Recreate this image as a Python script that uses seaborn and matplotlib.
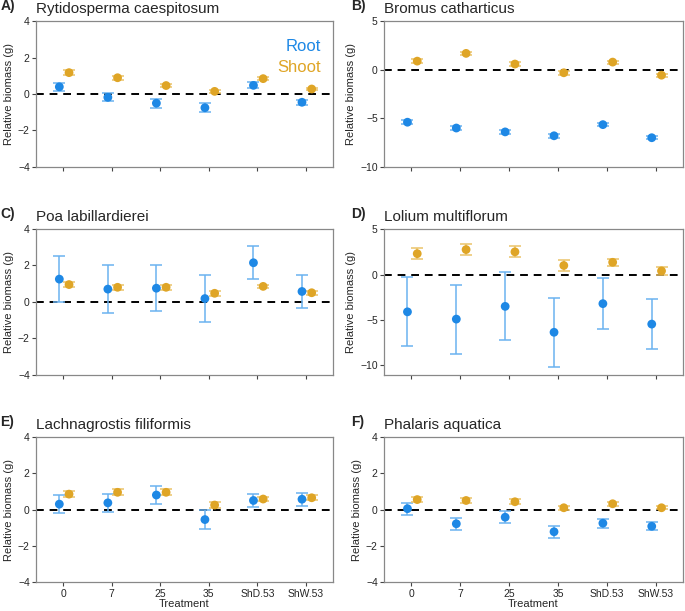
import numpy as np
import pandas as pd
import matplotlib.pyplot as plt
import seaborn as sns

sns.set_style('white')
plt.rcParams['font.family'] = ['Liberation Sans', 'DejaVu Sans']

treatments = ['0', '7', '25', '35', 'ShD.53', 'ShW.53']
species = ['Rytidosperma caespitosum', 'Bromus catharticus', 'Poa labillardierei',
           'Lolium multiflorum', 'Lachnagrostis filiformis', 'Phalaris aquatica']
letters = ['A)', 'B)', 'C)', 'D)', 'E)', 'F)']

# mean and error (half-width) per species, root then shoot
root_mean = [
    [0.40, -0.18, -0.50, -0.75, 0.48, -0.45],
    [-5.40, -6.00, -6.40, -6.80, -5.65, -7.00],
    [1.25, 0.70, 0.75, 0.18, 2.15, 0.57],
    [-4.10, -4.90, -3.50, -6.35, -3.20, -5.45],
    [0.30, 0.37, 0.80, -0.55, 0.50, 0.57],
    [0.05, -0.78, -0.42, -1.22, -0.75, -0.92],
]
root_err = [
    [0.22, 0.22, 0.24, 0.24, 0.17, 0.15],
    [0.20, 0.20, 0.20, 0.20, 0.18, 0.18],
    [1.28, 1.30, 1.27, 1.28, 0.90, 0.90],
    [3.80, 3.80, 3.75, 3.80, 2.80, 2.75],
    [0.48, 0.48, 0.50, 0.50, 0.36, 0.36],
    [0.33, 0.33, 0.33, 0.33, 0.24, 0.23],
]
shoot_mean = [
    [1.18, 0.90, 0.47, 0.15, 0.85, 0.28],
    [0.90, 1.70, 0.60, -0.30, 0.80, -0.55],
    [0.95, 0.80, 0.80, 0.47, 0.85, 0.50],
    [2.30, 2.75, 2.50, 1.00, 1.35, 0.40],
    [0.85, 0.95, 0.95, 0.25, 0.58, 0.65],
    [0.55, 0.50, 0.43, 0.10, 0.32, 0.10],
]
shoot_err = [
    [0.12, 0.12, 0.10, 0.10, 0.10, 0.08],
    [0.18, 0.18, 0.18, 0.18, 0.15, 0.15],
    [0.15, 0.15, 0.15, 0.15, 0.10, 0.12],
    [0.60, 0.60, 0.60, 0.58, 0.40, 0.40],
    [0.17, 0.17, 0.17, 0.17, 0.13, 0.13],
    [0.13, 0.13, 0.13, 0.10, 0.10, 0.08],
]
ylims = [(-4, 4), (-10, 5), (-4, 4), (-11, 5), (-4, 4), (-4, 4)]
yticks = [[-4, -2, 0, 2, 4], [-10, -5, 0, 5], [-4, -2, 0, 2, 4],
          [-10, -5, 0, 5], [-4, -2, 0, 2, 4], [-4, -2, 0, 2, 4]]

root_col = '#1E88E5'
shoot_col = '#DFA526'
root_err_col = '#6BB3F0'
shoot_err_col = '#EBC36A'

fig = plt.figure(figsize=(6.85, 6.11), dpi=100)
lefts = [0.0526, 0.5606]
widths = [0.4336, 0.4365]
bottoms = [0.727, 0.387, 0.047]
h = 0.238

for i in range(6):
    r, c = divmod(i, 2)
    ax = fig.add_axes([lefts[c], bottoms[r], widths[c], h])
    x = np.arange(len(treatments))
    df = pd.DataFrame({
        'x': np.concatenate([x - 0.08, x + 0.12]),
        'y': np.concatenate([root_mean[i], shoot_mean[i]]),
        'err': np.concatenate([root_err[i], shoot_err[i]]),
        'part': ['Root'] * 6 + ['Shoot'] * 6,
    })
    ax.axhline(0, color='black', ls=(0, (4, 3)), lw=1.4, zorder=1)
    for part, ecol in [('Root', root_err_col), ('Shoot', shoot_err_col)]:
        sub = df[df['part'] == part]
        ax.errorbar(sub['x'], sub['y'], yerr=sub['err'], fmt='none', ecolor=ecol,
                    elinewidth=1.1, capsize=4, capthick=1.1, zorder=2)
    sns.scatterplot(data=df, x='x', y='y', hue='part',
                    palette={'Root': root_col, 'Shoot': shoot_col},
                    s=40, edgecolor='none', legend=False, ax=ax, zorder=3)
    ax.set_xlim(-0.56, 5.56)
    ax.set_ylim(*ylims[i])
    ax.set_yticks(yticks[i])
    ax.set_xticks(x)
    for sp in ax.spines.values():
        sp.set_color('#888888')
        sp.set_linewidth(0.9)
    ax.tick_params(axis='both', direction='out', length=3, width=0.8,
                   color='#444444', labelsize=7.5, pad=1.5, left=True, bottom=True)
    ax.set_ylabel('Relative biomass (g)', fontsize=8, labelpad=3)
    if r == 2:
        ax.set_xticklabels(treatments)
        ax.set_xlabel('Treatment', fontsize=8, labelpad=0)
    else:
        ax.set_xticklabels([])
        ax.set_xlabel('')
    ax.set_title(species[i], loc='left', fontsize=11, pad=6)
    ax.text(-0.12 if c == 0 else -0.11, 1.055, letters[i], transform=ax.transAxes,
            fontsize=10, fontweight='bold', ha='left', va='bottom')
    if i == 0:
        ax.text(0.96, 0.83, 'Root', color=root_col, fontsize=12,
                transform=ax.transAxes, ha='right', va='center')
        ax.text(0.96, 0.68, 'Shoot', color=shoot_col, fontsize=12,
                transform=ax.transAxes, ha='right', va='center')

fig.savefig('out.png', dpi=100)
